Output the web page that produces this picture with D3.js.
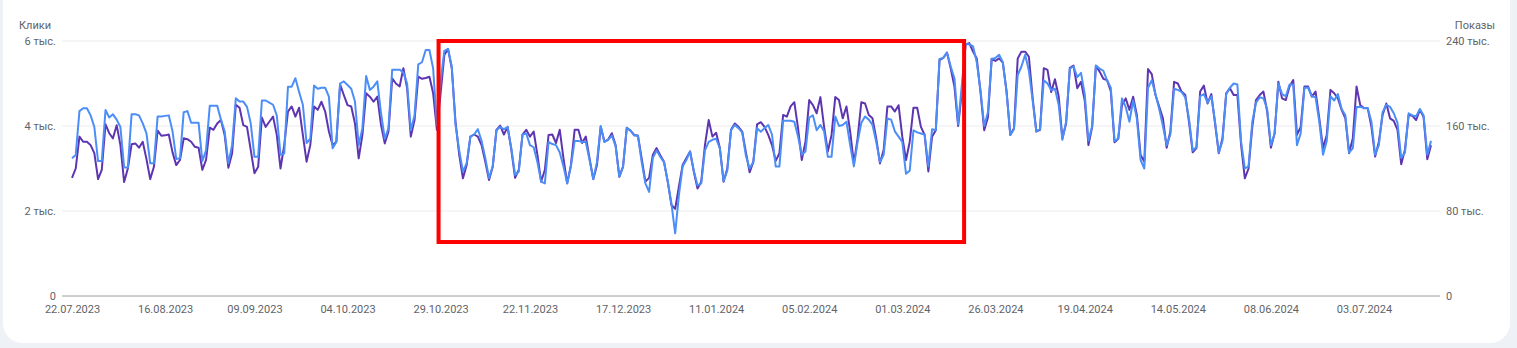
<!DOCTYPE html>
<html><head><meta charset="utf-8">
<script src="https://cdn.jsdelivr.net/npm/d3@7"></script>
<style>
html,body{margin:0;padding:0;background:#eef1f6;}
body{width:1517px;height:348px;overflow:hidden;font-family:Roboto, Arial, sans-serif;}
</style></head><body><svg id="chart" width="1517" height="348"></svg>
<script>
// ---- data ----
const startDate = "2023-07-22"; // first day, one value per day
// Clicks (blue, left axis)
const clicks = [
3240,3318,4350,4418,4418,4250,3975,
3175,3175,4375,4200,4275,4150,3975,
3025,3025,4275,4275,4250,4063,3825,
3125,3125,4225,4225,4238,4250,3875,
3225,3240,4325,4350,4075,4075,4075,
3175,3425,4475,4475,4475,4150,3875,
3125,3550,4650,4575,4575,4450,4063,
3275,3275,4600,4600,4550,4500,4250,
3325,3350,4925,4925,5125,4800,4500,
3600,3700,4950,4875,4900,4900,4690,
3475,3625,5000,5050,4965,4875,4575,
3550,3950,5175,4850,4925,5050,4300,
3700,3950,5325,5325,5325,5263,5000,
3900,4250,5450,5500,5788,5788,5350,
4025,5050,5765,5813,5400,4025,3425,
2925,3125,3750,3800,3925,3650,3250,
2775,3050,3900,3975,3925,3975,3475,
2850,2925,3800,3825,3550,3500,3150,
2690,2650,3625,3575,3550,3375,3050,
2650,3050,3650,3650,3625,3625,3200,
2750,3150,4000,3625,3675,3775,3525,
2800,3050,3950,3900,3775,3775,3150,
2650,2450,3250,3425,3275,3150,2700,
2175,1475,2375,3050,3200,3400,2950,
2600,2650,3425,3625,3675,3700,3475,
2700,2950,3900,4025,3950,3850,3300,
3000,3150,3950,3865,3950,4025,3800,
3050,3050,4125,4125,4125,4100,3750,
3325,3400,4200,4250,3900,4025,3875,
3275,3275,4225,4000,4025,4100,3550,
3050,3625,4075,4225,4150,4025,3625,
3150,3325,4175,4150,3875,3750,3625,
2875,2950,3900,3850,3825,3800,3050,
3925,3900,5575,5600,5725,5400,5125,
4040,4975,5925,5925,5875,5500,4850,
4000,4325,5575,5600,5675,5500,4800,
3788,3925,5200,5400,5675,5300,4600,
3875,3925,5075,5000,4850,4875,4500,
3675,4100,5350,5400,5150,5250,4750,
3650,4000,5425,5350,5300,5075,4900,
3650,3700,4650,4450,4100,4600,4175,
3200,3000,4900,5075,4750,4400,4000,
3550,3800,4875,4850,4800,4675,4175,
3425,3500,4700,4750,4550,4700,4100,
3375,3650,4750,4900,5000,4975,3625,
3000,3050,4100,4550,4675,4650,4400,
3550,3825,5000,4750,4700,4975,4975,
3550,3825,4900,4900,4700,4675,4100,
3325,3650,4700,4600,4750,4400,4250,
3375,3475,4450,4450,4425,4425,4100,
3325,3550,4325,4500,4450,4300,4075,
3250,3375,4300,4250,4225,4400,4250,
3325,3650
];
// Impressions (purple, right axis)
const impressions = [
111200,120000,150000,145200,145200,142000,134400,
110000,118800,161600,153200,148400,160800,142000,
107200,120000,142800,143600,139600,145200,128800,
110000,121600,155600,150800,151200,152000,135200,
123200,128000,148400,147600,145200,140400,139600,
118800,128000,158400,156400,162400,165600,151600,
120800,134400,180000,177200,160800,159200,137600,
115600,121600,168000,159200,164000,168800,151600,
120000,142000,173600,178400,168800,177200,151600,
126400,142000,178400,175200,182800,173600,154800,
142000,145200,199200,189200,179600,178400,162400,
129600,151600,190800,187600,182800,187600,160800,
143600,154800,204800,200000,197200,214400,195600,
150000,165600,206400,204400,205200,206400,190800,
156400,190800,226800,232400,214400,164000,132800,
110800,123200,150000,152000,150000,142000,126400,
109200,121600,156400,160400,152000,159200,137600,
111200,118800,152000,156400,150000,154800,132800,
107600,118800,151600,152000,144000,156400,129600,
106000,123200,156400,156400,144000,150000,129600,
110000,123200,159200,145200,147200,153200,142000,
112400,121600,158400,155600,151600,150800,129600,
107600,111200,132800,139200,132400,126400,107600,
85600,82000,102800,123200,129600,136000,117200,
101200,107600,142000,165600,150000,153600,139200,
107600,120000,156400,162400,159200,154800,135200,
116400,126400,161600,163600,159200,151600,142000,
127200,134400,170400,168800,178400,182400,158000,
128000,145200,184400,179600,172000,187200,159200,
136000,151600,187200,184400,167200,178400,154800,
124800,148400,182400,181200,170400,167200,148400,
124800,137600,178400,178400,173600,179600,150000,
128000,145200,177200,177200,159200,151600,117200,
150000,156000,222000,224000,229200,214400,197200,
160000,192000,236800,238000,230000,223600,192000,
156000,168000,223200,221200,223600,219600,192800,
151600,158000,223600,230000,230000,225200,186800,
154800,156400,214400,212800,192000,204000,188000,
148400,162400,214800,216800,195600,201600,184000,
142000,159200,216800,211200,204400,203200,192800,
144800,148000,179600,186000,175200,187600,170400,
132800,126400,213600,208800,189200,178400,167200,
139600,154800,201600,200000,192400,189200,164000,
135200,139200,192400,198000,181200,190000,162400,
134400,148400,190800,195600,189200,189200,142000,
110800,120000,159200,184400,189200,192400,173600,
139600,153200,201600,186000,184400,197200,203200,
151600,159200,197200,197200,187600,192400,167200,
139200,151600,194000,190800,186000,175200,167200,
134400,148400,197200,179600,176800,176800,159200,
131200,145200,170400,181200,167200,164800,156400,
124000,137600,170400,169600,165600,175200,168800,
128800,142000
];
const xTickLabels = ["22.07.2023","16.08.2023","09.09.2023","04.10.2023","29.10.2023","22.11.2023","17.12.2023","11.01.2024","05.02.2024","01.03.2024","26.03.2024","19.04.2024","14.05.2024","08.06.2024","03.07.2024"];
const clickTicks = [0, 2000, 4000, 6000];
const clickTickLabels = ["0", "2 тыс.", "4 тыс.", "6 тыс."];
const impressionTicks = [0, 80000, 160000, 240000];
const impressionTickLabels = ["0", "80 тыс.", "160 тыс.", "240 тыс."];
const leftTitle = "Клики";
const rightTitle = "Показы";
// highlighted period (annotation box)
const highlight = {from: "2023-10-28T10:48:00Z", to: "2024-03-17T14:24:00Z", top: 6000, bottom: 1270};

// ---- drawing ----
const svg = d3.select("#chart");
const W = 1517, H = 348;
const t0 = new Date(startDate + "T00:00:00Z");
const DAY = 86400000;
const dates = clicks.map((_, i) => new Date(t0.getTime() + i * DAY));
const parseLabel = s => { const [d, m, y] = s.split(".").map(Number); return new Date(Date.UTC(y, m - 1, d)); };

// card
svg.append("rect").attr("x", 3).attr("y", -30).attr("width", 1507).attr("height", 373)
  .attr("rx", 20).attr("fill", "#ffffff");

const x = d3.scaleUtc().domain([dates[0], dates[dates.length - 1]]).range([72, 1431]);
const yL = d3.scaleLinear().domain([0, 6000]).range([296, 41]);
const yR = d3.scaleLinear().domain([0, 240000]).range([296, 41]);
const plotL = 62, plotR = 1440;

// gridlines
svg.append("g").selectAll("line").data(clickTicks.filter(d => d > 0)).join("line")
  .attr("x1", plotL).attr("x2", plotR)
  .attr("y1", d => yL(d)).attr("y2", d => yL(d))
  .attr("stroke", "#ebebeb").attr("stroke-width", 1);
svg.append("line").attr("x1", plotL).attr("x2", plotR).attr("y1", yL(0)).attr("y2", yL(0))
  .attr("stroke", "#9e9e9e").attr("stroke-width", 1);

// left axis
const gl = svg.append("g").attr("transform", "translate(56,0)")
  .call(d3.axisLeft(yL).tickValues(clickTicks).tickSize(0).tickPadding(0)
    .tickFormat((d, i) => clickTickLabels[i]));
gl.select(".domain").remove();
gl.selectAll("text").attr("fill", "#5f6368").style("font-size", "11px").style("font-family", "Roboto, Arial, sans-serif");

// right axis
const gr = svg.append("g").attr("transform", "translate(1446,0)")
  .call(d3.axisRight(yR).tickValues(impressionTicks).tickSize(0).tickPadding(0)
    .tickFormat((d, i) => impressionTickLabels[i]));
gr.select(".domain").remove();
gr.selectAll("text").attr("fill", "#5f6368").style("font-size", "11px").style("font-family", "Roboto, Arial, sans-serif");

// bottom axis
const gb = svg.append("g").attr("transform", "translate(0,305)")
  .call(d3.axisBottom(x).tickValues(xTickLabels.map(parseLabel)).tickSize(0).tickPadding(0)
    .tickFormat((d, i) => xTickLabels[i]));
gb.select(".domain").remove();
gb.selectAll("text").attr("fill", "#5f6368").attr("dy", "0.71em").style("font-size", "11px").style("font-family", "Roboto, Arial, sans-serif");

// titles
svg.append("text").attr("x", 19).attr("y", 29).text(leftTitle)
  .attr("fill", "#5f6368").style("font-size", "11px").style("font-family", "Roboto, Arial, sans-serif");
svg.append("text").attr("x", 1495).attr("y", 29).attr("text-anchor", "end").text(rightTitle)
  .attr("fill", "#5f6368").style("font-size", "11px").style("font-family", "Roboto, Arial, sans-serif");

// lines
const lineImp = d3.line().x((d, i) => x(dates[i])).y(d => yR(d));
const lineClk = d3.line().x((d, i) => x(dates[i])).y(d => yL(d));
svg.append("path").datum(impressions).attr("d", lineImp)
  .attr("fill", "none").attr("stroke", "#5e35b1").attr("stroke-width", 2).attr("stroke-linejoin", "round");
svg.append("path").datum(clicks).attr("d", lineClk)
  .attr("fill", "none").attr("stroke", "#4c8ef7").attr("stroke-width", 2).attr("stroke-linejoin", "round");

// highlight box
const hx0 = x(new Date(highlight.from)), hx1 = x(new Date(highlight.to));
svg.append("rect").attr("x", hx0).attr("y", yL(highlight.top))
  .attr("width", hx1 - hx0).attr("height", yL(highlight.bottom) - yL(highlight.top))
  .attr("fill", "none").attr("stroke", "#ff0000").attr("stroke-width", 4);
</script></body></html>
